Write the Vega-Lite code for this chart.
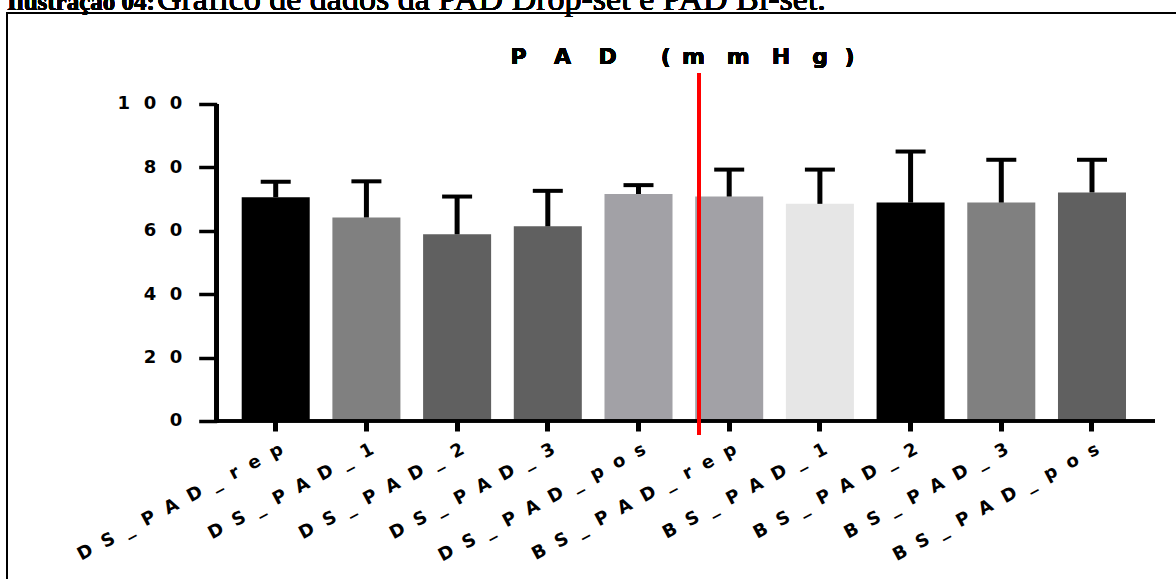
{
  "$schema": "https://vega.github.io/schema/vega-lite/v6.json",
  "width": 1179,
  "height": 576,
  "autosize": {"type": "none"},
  "padding": {"left": 7, "top": 13, "right": -10, "bottom": -10},
  "background": "white",
  "config": {
    "view": {"stroke": "black", "strokeWidth": 2},
    "axis": {"labelColor": "black", "tickColor": "black", "grid": false}
  },
  "data": {
    "values": [
      {"grupo": "DS_PAD_rep", "media": 70.6, "sup": 75.5},
      {"grupo": "DS_PAD_1", "media": 64.2, "sup": 75.6},
      {"grupo": "DS_PAD_2", "media": 58.9, "sup": 70.8},
      {"grupo": "DS_PAD_3", "media": 61.4, "sup": 72.6},
      {"grupo": "DS_PAD_pos", "media": 71.6, "sup": 74.4},
      {"grupo": "BS_PAD_rep", "media": 70.8, "sup": 79.3},
      {"grupo": "BS_PAD_1", "media": 68.5, "sup": 79.3},
      {"grupo": "BS_PAD_2", "media": 68.9, "sup": 85.0},
      {"grupo": "BS_PAD_3", "media": 68.9, "sup": 82.4},
      {"grupo": "BS_PAD_pos", "media": 72.1, "sup": 82.4}
    ]
  },
  "layer": [
    {
      "mark": {"type": "bar"},
      "encoding": {
        "x": {
          "field": "grupo", "type": "nominal", "sort": null, "title": null,
          "scale": {
            "domain": ["DS_PAD_rep", "DS_PAD_1", "DS_PAD_2", "DS_PAD_3", "DS_PAD_pos", "BS_PAD_rep", "BS_PAD_1", "BS_PAD_2", "BS_PAD_3", "BS_PAD_pos"],
            "range": [234.7, 1119],
            "paddingInner": 0.25, "paddingOuter": 0
          },
          "axis": {
            "orient": "bottom", "offset": -168, "domain": false,
            "ticks": true, "tickSize": 10, "tickWidth": 5,
            "labelAngle": -28, "labelAlign": "right", "labelBaseline": "top",
            "labelFont": "DejaVu Sans", "labelFontWeight": "bold", "labelFontSize": 18,
            "labelPadding": 9, "labelOffset": 2, "labelOverlap": false, "labelLimit": 500,
            "labelBound": false, "labelFlush": false,
            "labelExpr": "join(split(datum.label, ''), '\u2002\u2006')"
          }
        },
        "y": {
          "field": "media", "type": "quantitative", "title": null,
          "scale": {"domain": [-53, 128.7], "nice": false, "zero": false},
          "axis": {
            "values": [0, 20, 40, 60, 80, 100], "offset": -209.7, "domain": false,
            "tickSize": 18, "tickWidth": 3.5,
            "labelFont": "DejaVu Sans", "labelFontWeight": "bold", "labelFontSize": 18,
            "labelPadding": 17, "labelBaseline": "middle",
            "labelExpr": "join(split(datum.label, ''), '\u2002\u2005')"
          }
        },
        "color": {
          "field": "grupo", "type": "nominal", "legend": null,
          "scale": {
            "domain": ["DS_PAD_rep", "DS_PAD_1", "DS_PAD_2", "DS_PAD_3", "DS_PAD_pos", "BS_PAD_rep", "BS_PAD_1", "BS_PAD_2", "BS_PAD_3", "BS_PAD_pos"],
            "range": ["#000000", "#808080", "#606060", "#606060", "#a2a1a6", "#a2a1a6", "#e6e6e6", "#000000", "#808080", "#606060"]
          }
        }
      }
    },
    {
      "mark": {"type": "rule", "color": "black", "strokeWidth": 5},
      "encoding": {
        "x": {"field": "grupo", "type": "nominal", "sort": null, "title": null},
        "y": {"field": "media", "type": "quantitative", "title": null},
        "y2": {"field": "sup"}
      }
    },
    {
      "mark": {"type": "tick", "color": "black", "size": 30, "thickness": 4, "opacity": 1},
      "encoding": {
        "x": {"field": "grupo", "type": "nominal", "sort": null, "title": null},
        "y": {"field": "sup", "type": "quantitative", "title": null}
      }
    },
    {
      "mark": {"type": "rule", "color": "black", "strokeWidth": 4},
      "encoding": {
        "x": {"datum": "DS_PAD_rep", "type": "nominal", "bandPosition": -0.3676, "title": null},
        "y": {"datum": -0.6, "type": "quantitative", "title": null},
        "y2": {"datum": 100}
      }
    },
    {
      "mark": {"type": "rule", "color": "black", "strokeWidth": 2.5},
      "encoding": {
        "x": {"datum": "DS_PAD_rep", "type": "nominal", "bandPosition": -0.3676, "title": null},
        "x2": {"datum": "BS_PAD_pos", "bandPosition": 1.426},
        "y": {"datum": 0, "type": "quantitative", "title": null}
      }
    },
    {
      "mark": {"type": "rule", "color": "#ff0000", "strokeWidth": 3.5},
      "encoding": {
        "x": {"datum": "BS_PAD_rep", "type": "nominal", "bandPosition": 0.056, "title": null},
        "y": {"datum": 109.6, "type": "quantitative", "title": null},
        "y2": {"datum": -4.4}
      }
    },
    {
      "mark": {"type": "text", "font": "DejaVu Sans", "fontSize": 22, "fontWeight": "bold", "align": "center", "baseline": "alphabetic", "color": "black"},
      "encoding": {
        "x": {"datum": "BS_PAD_rep", "type": "nominal", "bandPosition": -0.187, "title": null},
        "y": {"datum": 112.6, "type": "quantitative", "title": null},
        "text": {"value": "P\u2003\u2005A\u2003\u2005D\u2003\u2003(\u2002m\u2003m\u2003H\u2003g\u2002\u2005)"}
      }
    },
    {
      "mark": {"type": "text", "font": "Liberation Serif", "fontSize": 25, "fontWeight": "bold", "align": "left", "baseline": "alphabetic", "color": "black"},
      "encoding": {
        "x": {"datum": "DS_PAD_rep", "type": "nominal", "bandPosition": -3.451, "title": null},
        "y": {"datum": 129.65, "type": "quantitative", "title": null},
        "text": {"value": "Ilustração 04:"}
      }
    },
    {
      "mark": {"type": "text", "font": "Liberation Serif", "fontSize": 34, "fontWeight": "normal", "align": "left", "baseline": "alphabetic", "color": "black"},
      "encoding": {
        "x": {"datum": "DS_PAD_rep", "type": "nominal", "bandPosition": -1.246, "title": null},
        "y": {"datum": 129.65, "type": "quantitative", "title": null},
        "text": {"value": "Gráfico de dados da PAD Drop-set e PAD Bi-set."}
      }
    }
  ]
}
